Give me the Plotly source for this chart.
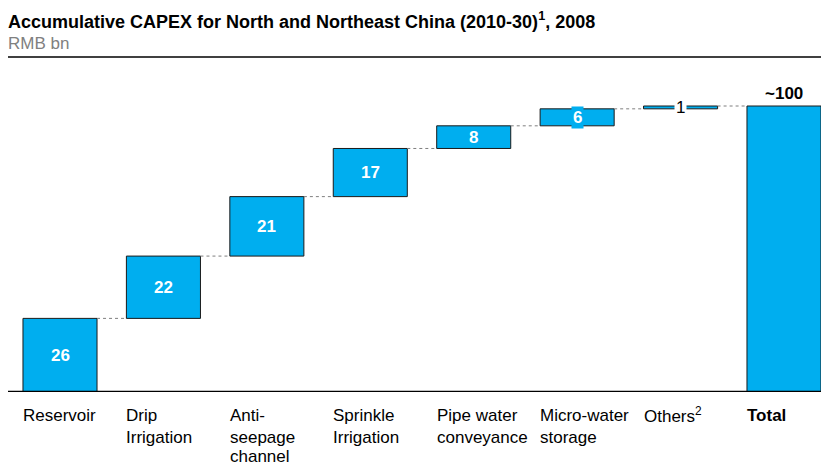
import plotly.graph_objects as go

# CAPEX components, RMB bn
categories = [["Reservoir"], ["Drip", "Irrigation"], ["Anti-", "seepage", "channel"], ["Sprinkle", "Irrigation"],
              ["Pipe water", "conveyance"], ["Micro-water", "storage"], ["Others<sup>2</sup>"], ["<b>Total</b>"]]
steps = [26, 22, 21, 17, 8, 6, 1]
total_label = "~100"

BLUE = "#00AEEF"
W = 821
H = 465
BAR_W = 0.716
FONT = "Liberation Sans, Arial"
LABEL_SIZE = 17

# cumulative bases for the waterfall steps
bases = []
run = 0
for v in steps:
    bases.append(run)
    run += v
total = run

xs = list(range(len(steps) + 1))
bar_bases = bases + [0]
bar_vals = steps + [total]

fig = go.Figure()
fig.add_trace(go.Bar(
    x=xs, y=bar_vals, base=bar_bases, width=BAR_W,
    marker=dict(color=BLUE, line=dict(color="#1a1a1a", width=1)),
    hoverinfo="skip",
))

shapes = []
annotations = []

# dashed connectors between consecutive bars
tops = [b + v for b, v in zip(bases, steps)]
for i, t in enumerate(tops):
    shapes.append(dict(type="line", xref="x", yref="y",
                       x0=i + BAR_W / 2, x1=i + 1 - BAR_W / 2, y0=t, y1=t,
                       line=dict(color="#7f7f7f", width=1, dash="dot")))

# value labels
for i, (b, v) in enumerate(zip(bases, steps)):
    mid = b + v / 2
    if v >= 6:
        ann = dict(x=i, y=mid, xref="x", yref="y", text=f"<b>{v}</b>", showarrow=False,
                   font=dict(color="white", size=LABEL_SIZE, family=FONT))
        if v < 8:
            ann.update(bgcolor=BLUE, borderpad=1)
        annotations.append(ann)
    else:
        annotations.append(dict(x=i, y=mid, xref="x", yref="y", text=str(v), showarrow=False,
                                bgcolor="white", borderpad=1,
                                font=dict(color="black", size=LABEL_SIZE, family=FONT)))

annotations.append(dict(x=len(steps), y=total, xref="x", yref="y", text=f"<b>{total_label}</b>",
                        showarrow=False, yanchor="bottom", yshift=1,
                        font=dict(color="black", size=LABEL_SIZE, family=FONT)))

# category labels, left-aligned with each bar, one annotation per line
plot_top = 80
plot_bottom = 392
plot_h = plot_bottom - plot_top
line_centres = [415, 437, 456]
for i, lines in enumerate(categories):
    for j, line in enumerate(lines):
        annotations.append(dict(x=i - BAR_W / 2, y=(plot_bottom - line_centres[j]) / plot_h,
                                xref="x", yref="paper", text=line, showarrow=False,
                                xanchor="left", yanchor="middle", align="left", xshift=-2,
                                font=dict(color="black", size=LABEL_SIZE, family=FONT)))

# title and unit
annotations.append(dict(x=8 / W, y=(plot_bottom - 20) / plot_h, xref="paper", yref="paper",
                        text="<b>Accumulative CAPEX for North and Northeast China (2010-30)<sup>1</sup>, 2008</b>",
                        showarrow=False, xanchor="left", yanchor="middle", xshift=-2,
                        font=dict(color="black", size=18, family=FONT)))
annotations.append(dict(x=8 / W, y=(plot_bottom - 44) / plot_h, xref="paper", yref="paper",
                        text="RMB bn", showarrow=False, xanchor="left", yanchor="middle", xshift=-2,
                        font=dict(color="#808080", size=17, family=FONT)))

# rule under the heading and the baseline
shapes.append(dict(type="line", xref="paper", yref="paper", x0=8 / W, x1=1,
                   y0=(plot_bottom - 57) / plot_h, y1=(plot_bottom - 57) / plot_h,
                   line=dict(color="black", width=1.5)))
shapes.append(dict(type="line", xref="paper", yref="y", x0=8 / W, x1=1, y0=0, y1=0,
                   line=dict(color="black", width=2.5)))

px_per_unit = 103.43
x0 = -60 / px_per_unit
x1 = 7 + (W - 784) / px_per_unit
y_max = plot_h / ((plot_bottom - 106) / total)

fig.update_layout(
    width=W, height=H,
    margin=dict(l=0, r=0, t=plot_top, b=H - plot_bottom),
    paper_bgcolor="white", plot_bgcolor="white",
    showlegend=False,
    xaxis=dict(range=[x0, x1], visible=False, fixedrange=True),
    yaxis=dict(range=[0, y_max], visible=False, fixedrange=True),
    shapes=shapes,
    annotations=annotations,
)

fig.write_html("out.html")
